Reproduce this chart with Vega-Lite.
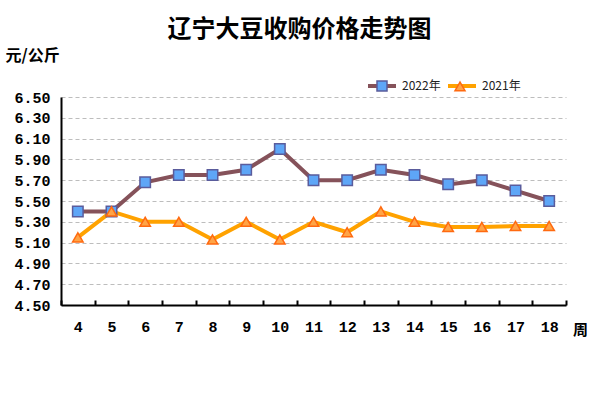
{
  "$schema": "https://vega.github.io/schema/vega-lite/v6.json",
  "width": 505,
  "height": 208,
  "autosize": {"type": "none"},
  "padding": {"left": 61, "top": 97, "right": 30, "bottom": 91},
  "background": "white",
  "title": {
    "text": "辽宁大豆收购价格走势图",
    "anchor": "middle",
    "frame": "group",
    "dx": -14,
    "offset": 5,
    "font": "Noto Sans CJK SC",
    "fontSize": 24,
    "fontWeight": "bold",
    "color": "#000000"
  },
  "config": {
    "view": {"stroke": null},
    "axis": {"labelFont": "Liberation Mono", "labelFontWeight": "bold", "labelFontSize": 15, "labelColor": "#000000"}
  },
  "data": {
    "values": [
      {"week": 4, "series": "2022年", "price": 5.40},
      {"week": 5, "series": "2022年", "price": 5.40},
      {"week": 6, "series": "2022年", "price": 5.68},
      {"week": 7, "series": "2022年", "price": 5.75},
      {"week": 8, "series": "2022年", "price": 5.75},
      {"week": 9, "series": "2022年", "price": 5.80},
      {"week": 10, "series": "2022年", "price": 6.00},
      {"week": 11, "series": "2022年", "price": 5.70},
      {"week": 12, "series": "2022年", "price": 5.70},
      {"week": 13, "series": "2022年", "price": 5.80},
      {"week": 14, "series": "2022年", "price": 5.75},
      {"week": 15, "series": "2022年", "price": 5.66},
      {"week": 16, "series": "2022年", "price": 5.70},
      {"week": 17, "series": "2022年", "price": 5.60},
      {"week": 18, "series": "2022年", "price": 5.50},
      {"week": 4, "series": "2021年", "price": 5.15},
      {"week": 5, "series": "2021年", "price": 5.40},
      {"week": 6, "series": "2021年", "price": 5.30},
      {"week": 7, "series": "2021年", "price": 5.30},
      {"week": 8, "series": "2021年", "price": 5.13},
      {"week": 9, "series": "2021年", "price": 5.30},
      {"week": 10, "series": "2021年", "price": 5.13},
      {"week": 11, "series": "2021年", "price": 5.30},
      {"week": 12, "series": "2021年", "price": 5.20},
      {"week": 13, "series": "2021年", "price": 5.40},
      {"week": 14, "series": "2021年", "price": 5.30},
      {"week": 15, "series": "2021年", "price": 5.25},
      {"week": 16, "series": "2021年", "price": 5.25},
      {"week": 17, "series": "2021年", "price": 5.26},
      {"week": 18, "series": "2021年", "price": 5.26}
    ]
  },
  "encoding": {
    "x": {
      "field": "week",
      "type": "ordinal",
      "bandPosition": 0.5,
      "scale": {"type": "band", "paddingInner": 0, "paddingOuter": 0},
      "axis": {
        "title": "周",
        "titleFont": "Noto Sans CJK SC",
        "titleFontSize": 15,
        "titleFontWeight": "bold",
        "titleColor": "#000000",
        "titleAngle": 0,
        "titleX": 519,
        "titleY": 24,
        "titleAlign": "center",
        "titleBaseline": "middle",
        "labelAngle": 0,
        "tickBand": "extent",
        "tickSize": -5,
        "tickColor": "#000000",
        "tickWidth": 2,
        "domainColor": "#000000",
        "domainWidth": 2,
        "labelPadding": 19,
        "grid": false
      }
    },
    "y": {
      "field": "price",
      "type": "quantitative",
      "scale": {"domain": [4.5, 6.5], "nice": false, "zero": false},
      "axis": {
        "values": [4.5, 4.7, 4.9, 5.1, 5.3, 5.5, 5.7, 5.9, 6.1, 6.3, 6.5],
        "format": ".2f",
        "title": "元/公斤",
        "titleFont": "Noto Sans CJK SC",
        "titleFontSize": 16,
        "titleFontWeight": "bold",
        "titleColor": "#000000",
        "titleAngle": 0,
        "titleX": -56,
        "titleY": -42,
        "titleAlign": "left",
        "titleBaseline": "middle",
        "ticks": false,
        "labelPadding": 11,
        "domainColor": "#000000",
        "domainWidth": 2,
        "grid": true,
        "gridColor": "#BDBDBD",
        "gridDash": [4, 3],
        "gridWidth": 1
      }
    }
  },
  "layer": [
    {
      "mark": {"type": "line", "strokeWidth": 4},
      "encoding": {
        "color": {
          "field": "series",
          "type": "nominal",
          "scale": {"domain": ["2022年", "2021年"], "range": ["#85525A", "#FFA200"]},
          "legend": {
            "title": null,
            "orient": "none",
            "legendX": 305,
            "legendY": -27,
            "direction": "horizontal",
            "columns": 2,
            "columnPadding": -1,
            "symbolType": "stroke",
            "symbolSize": 784,
            "symbolStrokeWidth": 4,
            "labelFont": "Noto Sans CJK SC",
            "labelFontSize": 12,
            "labelColor": "#222222",
            "labelOffset": 4
          }
        }
      }
    },
    {
      "mark": {"type": "point", "filled": true, "opacity": 1, "strokeWidth": 1.5},
      "encoding": {
        "fill": {
          "field": "series",
          "type": "nominal",
          "sort": "descending",
          "scale": {"range": ["#5EA6F7", "#FFA446"]},
          "legend": {
            "title": null,
            "orient": "none",
            "legendX": 315,
            "legendY": -17,
            "direction": "horizontal",
            "columns": 2,
            "columnPadding": 62,
            "symbolSize": 100,
            "symbolStrokeWidth": 1.5,
            "labelExpr": "''",
            "labelOffset": 0
          }
        },
        "stroke": {
          "field": "series",
          "type": "nominal",
          "sort": "descending",
          "scale": {"range": ["#5A5C9C", "#FF6A10"]}
        },
        "shape": {
          "field": "series",
          "type": "nominal",
          "sort": "descending",
          "scale": {"range": ["square", "triangle-up"]}
        },
        "size": {"value": 110}
      }
    }
  ],
  "resolve": {"scale": {"color": "independent", "fill": "independent", "stroke": "independent", "shape": "independent"}}
}
